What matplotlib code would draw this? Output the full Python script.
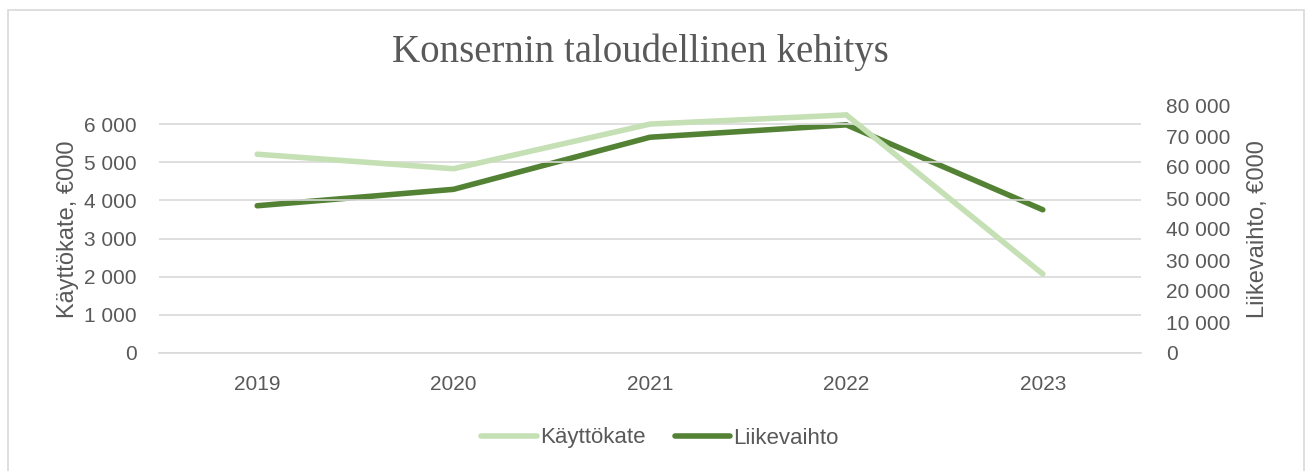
import matplotlib
matplotlib.use("Agg")
import matplotlib.pyplot as plt
from matplotlib.ticker import FuncFormatter
from matplotlib.patches import Rectangle

years = ["2019", "2020", "2021", "2022", "2023"]
kayttokate = [5210, 4830, 6000, 6240, 2070]        # €000, left axis
liikevaihto = [47500, 52800, 69600, 73600, 46200]  # €000, right axis

LIGHT = "#c5e0b4"
DARK = "#548235"
TXT = "#595959"
GRID = "#d9d9d9"
SANS = ["Liberation Sans", "DejaVu Sans"]

def spaced(x, _=None):
    return f"{int(x):,}".replace(",", " ")

W, H = 1305, 471
fig = plt.figure(figsize=(W / 100, H / 100), dpi=100)
fig.patches.append(Rectangle((8 / W, -0.05), (1304 - 8) / W, 1.05 - 10 / H,
                             transform=fig.transFigure, fill=False,
                             edgecolor=GRID, lw=1.2))

# plot area in pixel coords
x0, x1, ytop, ybot = 159, 1141, 105, 353
ax = fig.add_axes([x0 / W, 1 - ybot / H, (x1 - x0) / W, (ybot - ytop) / H])
ax2 = ax.twinx()

xs = range(len(years))
l1, = ax.plot(xs, kayttokate, color=LIGHT, lw=4, solid_capstyle="round",
              solid_joinstyle="miter", label="Käyttökate", zorder=3)
l2, = ax2.plot(xs, liikevaihto, color=DARK, lw=4, solid_capstyle="round",
               solid_joinstyle="miter", label="Liikevaihto", zorder=3)

ax.set_xlim(-0.5, len(years) - 0.5)
ax.set_ylim(0, 6500)
ax.set_yticks(range(0, 6001, 1000))
ax2.set_ylim(0, 80000)
ax2.set_yticks(range(0, 80001, 10000))
ax.yaxis.set_major_formatter(FuncFormatter(spaced))
ax2.yaxis.set_major_formatter(FuncFormatter(spaced))
ax.set_xticks(list(xs))
ax.set_xticklabels(years)

ax.grid(axis="y", color=GRID, lw=1.2)
ax.set_axisbelow(True)
for a in (ax, ax2):
    for s in a.spines.values():
        s.set_visible(False)
    a.tick_params(length=0, colors=TXT, labelsize=15)
    for lab in a.get_xticklabels() + a.get_yticklabels():
        lab.set_family(SANS)
ax.spines["bottom"].set_visible(True)
ax.spines["bottom"].set_color(GRID)
ax.spines["bottom"].set_linewidth(1.2)
ax.tick_params(axis="y", pad=16)
ax.tick_params(axis="x", pad=16)
ax2.tick_params(axis="y", pad=18)
ax2.set_zorder(ax.get_zorder() - 1)
ax.patch.set_visible(False)

ax.set_ylabel("Käyttökate, €000", color=TXT, fontsize=17, family=SANS, labelpad=4)
ax2.set_ylabel("Liikevaihto, €000", color=TXT, fontsize=17, family=SANS, labelpad=12)

fig.text(640 / W, 1 - 52 / H, "Konsernin taloudellinen kehitys", ha="center",
         va="center", fontsize=28, color=TXT,
         family=["Liberation Serif", "DejaVu Serif"])

fig.legend(handles=[l1, l2], loc="center", bbox_to_anchor=(660 / W, 1 - 438 / H),
           ncol=2, frameon=False, labelcolor=TXT,
           prop={"family": SANS, "size": 16}, handlelength=2.5,
           handletextpad=0.15, columnspacing=1.3)

fig.savefig("out.png", dpi=100)
